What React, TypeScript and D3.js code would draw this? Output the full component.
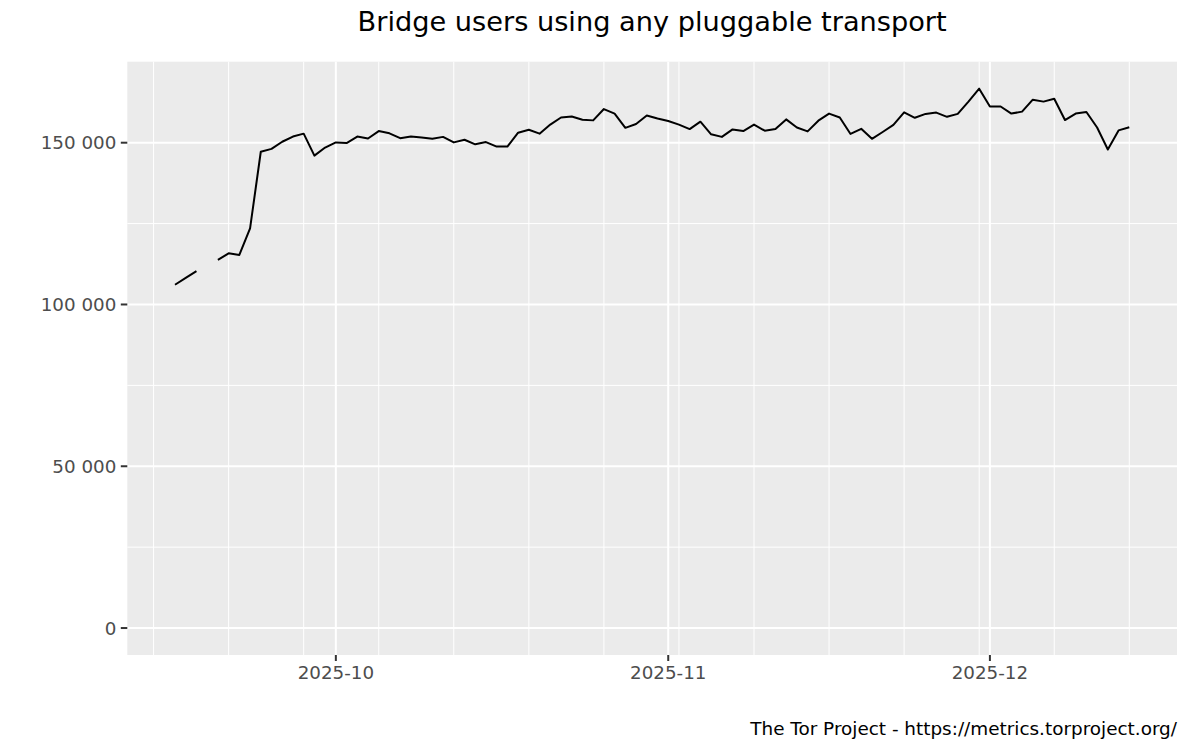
import React from "react";
import * as d3 from "d3";

const TITLE = "Bridge users using any pluggable transport";
const CAPTION = "The Tor Project - https://metrics.torproject.org/";
const START_DATE = "2025-09-16";
const END_DATE = "2025-12-14";

// Daily bridge users (null = missing day)
const USERS: (number | null)[] = [
  // Sep 16 - Sep 30
  106100, 108200, 110300, null, 113800, 115800, 115300, 123500, 147200, 148100,
  150300, 151900, 152800, 146000, 148500,
  // Oct 1 - Oct 31
  150100, 149900, 151900, 151300, 153600, 152900, 151400, 151900, 151600, 151200,
  151800, 150100, 150900, 149500, 150200, 148800, 148800, 153100, 154000, 152800,
  155600, 157800, 158100, 157100, 156900, 160400, 159000, 154600, 155800, 158400,
  157500,
  // Nov 1 - Nov 30
  156700, 155600, 154200, 156500, 152600, 151800, 154100, 153600, 155600, 153700,
  154200, 157200, 154700, 153500, 156800, 159000, 157800, 152700, 154300, 151200,
  153300, 155500, 159400, 157700, 158900, 159300, 158000, 158900, 162700, 166700,
  // Dec 1 - Dec 14
  161200, 161200, 159000, 159600, 163300, 162700, 163600, 157000, 159000, 159500,
  154700, 147900, 153800, 154800,
];

const Y_MAJOR = [0, 50000, 100000, 150000];
const Y_MINOR = [25000, 75000, 125000];
const X_MAJOR = ["2025-10-01", "2025-11-01", "2025-12-01"];
const X_MAJOR_LABELS = ["2025-10", "2025-11", "2025-12"];

const W = 1200;
const H = 750;
const PANEL = { left: 127.3, right: 1177, top: 61.7, bottom: 655 };
const FONT = "DejaVu Sans, Verdana, sans-serif";

export default function App() {
  const start = new Date(START_DATE + "T00:00:00Z");
  const end = new Date(END_DATE + "T00:00:00Z");
  const dates = d3.utcDays(start, d3.utcDay.offset(end, 1));
  const data = dates.map((d, i) => ({ date: d, value: USERS[i] }));

  const span = end.getTime() - start.getTime();
  const x = d3
    .scaleUtc()
    .domain([new Date(start.getTime() - 0.05 * span), new Date(end.getTime() + 0.05 * span)])
    .range([PANEL.left, PANEL.right]);

  const maxV = d3.max(USERS, (v) => (v == null ? 0 : v)) as number;
  const y = d3
    .scaleLinear()
    .domain([-0.05 * maxV, 1.05 * maxV])
    .range([PANEL.bottom, PANEL.top]);

  const xMinor = d3.utcSunday.range(x.domain()[0], x.domain()[1]);
  const xMajor = X_MAJOR.map((s) => new Date(s + "T00:00:00Z"));

  const line = d3
    .line<{ date: Date; value: number | null }>()
    .defined((d) => d.value != null)
    .x((d) => x(d.date))
    .y((d) => y(d.value as number));

  const fmt = (v: number) => d3.format(",")(v).replace(/,/g, " ");

  return (
    <svg
      width={W}
      height={H}
      style={{ position: "absolute", left: 0, top: 0, background: "#fff" }}
      fontFamily={FONT}
    >
      <rect x={0} y={0} width={W} height={H} fill="#fff" />
      <rect
        x={PANEL.left}
        y={PANEL.top}
        width={PANEL.right - PANEL.left}
        height={PANEL.bottom - PANEL.top}
        fill="#EBEBEB"
      />
      {/* minor grid */}
      {Y_MINOR.map((v) => (
        <line key={"ym" + v} x1={PANEL.left} x2={PANEL.right} y1={y(v)} y2={y(v)} stroke="#fff" strokeWidth={1} />
      ))}
      {xMinor.map((d) => (
        <line key={"xm" + d.getTime()} x1={x(d)} x2={x(d)} y1={PANEL.top} y2={PANEL.bottom} stroke="#fff" strokeWidth={1} />
      ))}
      {/* major grid */}
      {Y_MAJOR.map((v) => (
        <line key={"yM" + v} x1={PANEL.left} x2={PANEL.right} y1={y(v)} y2={y(v)} stroke="#fff" strokeWidth={2} />
      ))}
      {xMajor.map((d) => (
        <line key={"xM" + d.getTime()} x1={x(d)} x2={x(d)} y1={PANEL.top} y2={PANEL.bottom} stroke="#fff" strokeWidth={2} />
      ))}
      {/* data line */}
      <path d={line(data) || ""} fill="none" stroke="#000" strokeWidth={2} strokeLinejoin="round" />
      {/* y axis */}
      {Y_MAJOR.map((v) => (
        <g key={"yt" + v}>
          <line x1={PANEL.left - 6.5} x2={PANEL.left} y1={y(v)} y2={y(v)} stroke="#333" strokeWidth={2} />
          <text x={PANEL.left - 11} y={y(v)} dy="0.36em" textAnchor="end" fontSize={18.3} fill="#4D4D4D">
            {fmt(v)}
          </text>
        </g>
      ))}
      {/* x axis */}
      {xMajor.map((d, i) => (
        <g key={"xt" + i}>
          <line x1={x(d)} x2={x(d)} y1={PANEL.bottom} y2={PANEL.bottom + 6} stroke="#333" strokeWidth={2} />
          <text x={x(d)} y={679} textAnchor="middle" fontSize={18.3} fill="#4D4D4D">
            {X_MAJOR_LABELS[i]}
          </text>
        </g>
      ))}
      <text x={(PANEL.left + PANEL.right) / 2} y={31} textAnchor="middle" fontSize={27.2} fill="#000">
        {TITLE}
      </text>
      <text x={PANEL.right} y={735} textAnchor="end" fontSize={18.4} fill="#000">
        {CAPTION}
      </text>
    </svg>
  );
}
